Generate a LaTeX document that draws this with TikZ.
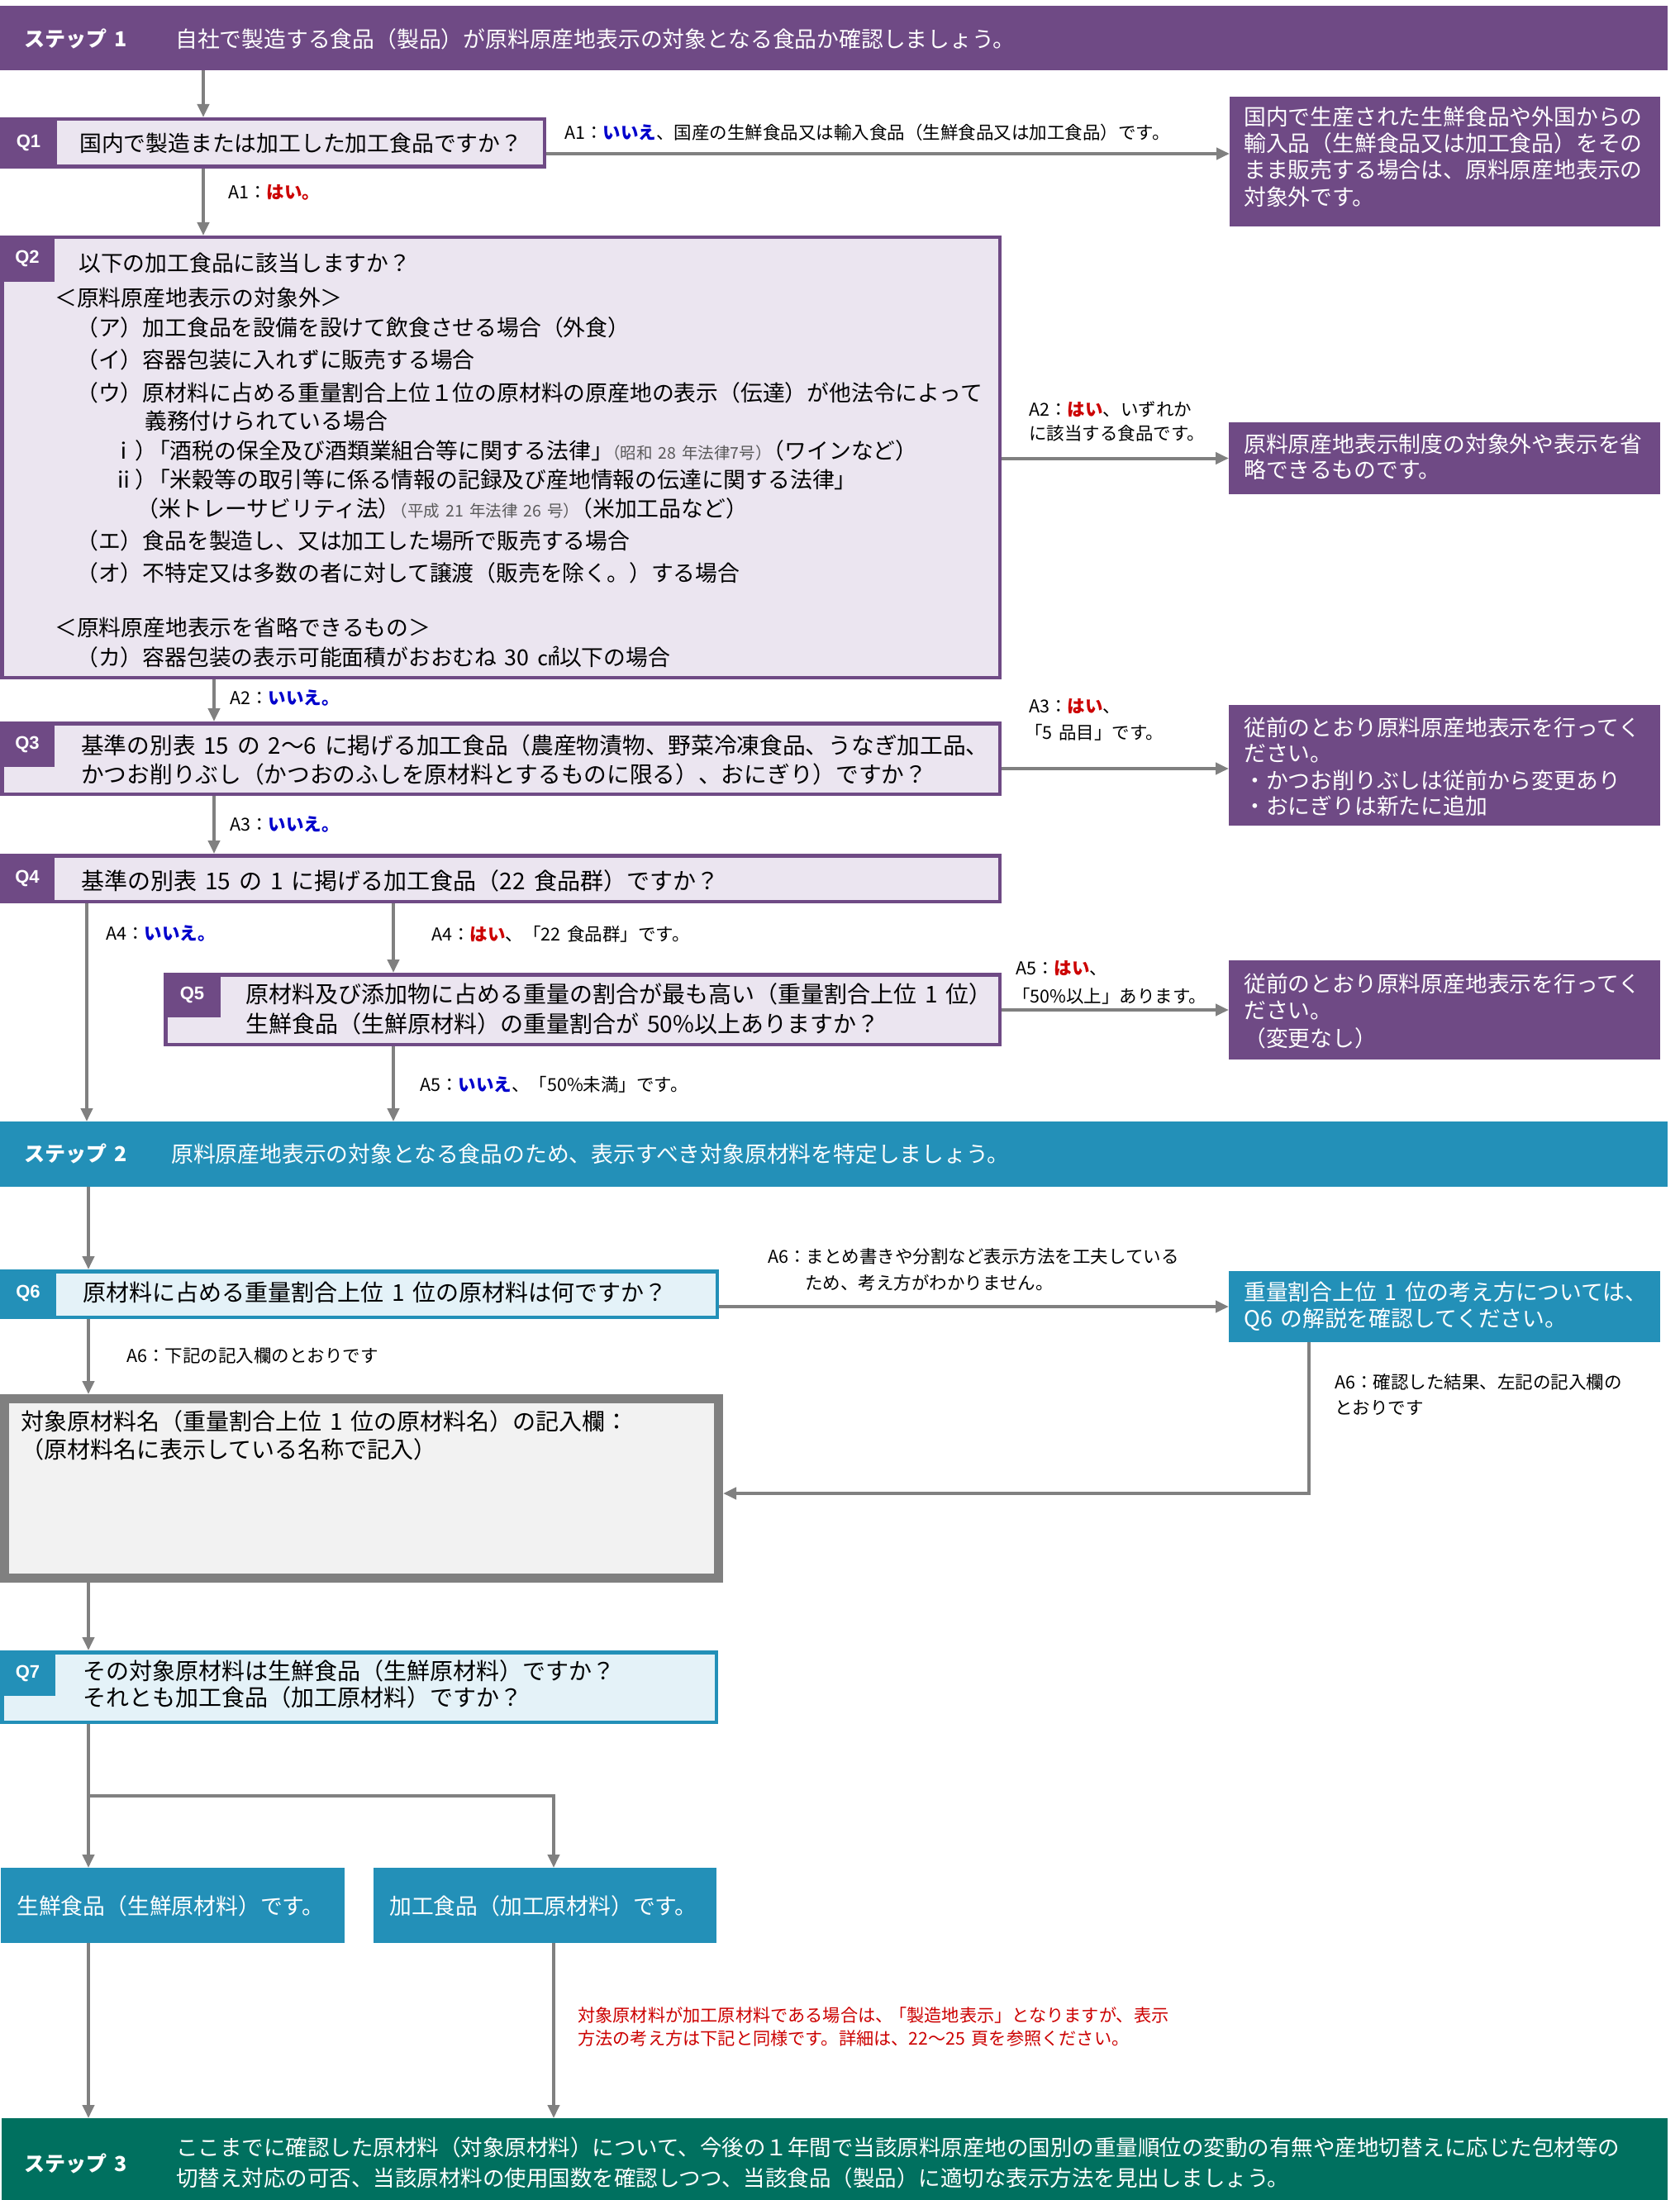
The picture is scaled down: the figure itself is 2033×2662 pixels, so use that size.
\documentclass[tikz,border=0pt]{standalone}
\usepackage{fontspec}
\setmainfont[WordSpace=1.6]{Noto Sans CJK JP}
\newfontfamily\qfont{Liberation Sans}
\usetikzlibrary{arrows.meta}
\definecolor{pur}{HTML}{6F4A85}
\definecolor{lav}{HTML}{EBE5F0}
\definecolor{blu}{HTML}{2390B8}
\definecolor{lblu}{HTML}{E4F2F8}
\definecolor{grn}{HTML}{00705F}
\definecolor{gry}{HTML}{808080}
\definecolor{yesc}{HTML}{CC0000}
\definecolor{noc}{HTML}{0000CC}
\definecolor{notec}{HTML}{CC0000}
\definecolor{entfill}{HTML}{F2F2F2}
\definecolor{lawc}{HTML}{595959}
\tikzset{
  box/.style={rectangle, inner sep=0pt, outer sep=0pt, anchor=north west},
  qbox/.style={box, draw=pur, fill=lav, line width=4.5pt, outer sep=2.25pt},
  qboxb/.style={box, draw=blu, fill=lblu, line width=4.5pt, outer sep=2.25pt},
  ptab/.style={box, fill=pur},
  btab/.style={box, fill=blu},
  qlab/.style={inner sep=0pt, text=white, font=\qfont\bfseries\fontsize{22}{26}\selectfont},
  qtxt/.style={anchor=west, inner sep=0pt, font=\fontsize{26.8}{32}\selectfont},
  qbig/.style={anchor=west, inner sep=0pt, font=\fontsize{28}{33}\selectfont},
  wtxt/.style={qtxt, text=white},
  steplab/.style={anchor=west, inner sep=0pt, text=white, font=\bfseries\fontsize{25}{30}\selectfont},
  lbl/.style={anchor=west, inner sep=0pt, font=\fontsize{21.5}{26}\selectfont},
  arr/.style={draw=gry, line width=4pt, -{Triangle[length=16pt,width=14pt]}},
}
\newcommand{\yes}[1]{{\bfseries\color{yesc}#1}}
\newcommand{\no}[1]{{\bfseries\color{noc}#1}}
\newcommand{\law}[1]{{\color{lawc}\fontsize{19.5}{24}\selectfont#1}}
\newcommand{\kk}{\kern-.4em}
\begin{document}
\begin{tikzpicture}[x=1pt,y=-1pt]
\fill[white] (0,0) rectangle (2033,2662);
\useasboundingbox (0,0) rectangle (2033,2662);

% ---------- step bars ----------
\node[box, fill=pur, minimum width=2018pt, minimum height=78pt] (step1) at (0,7) {};
\node[steplab] (s1l) at (29,47) {ステップ 1};
\node[wtxt] (s1t) at (212,47) {自社で製造する食品（製品）が原料原産地表示の対象となる食品か確認しましょう。};

\node[box, fill=blu, minimum width=2018pt, minimum height=79pt] (step2) at (0,1357) {};
\node[steplab] (s2l) at (29,1396) {ステップ 2};
\node[wtxt] (s2t) at (207,1396) {原料原産地表示の対象となる食品のため、表示すべき対象原材料を特定しましょう。};

\node[box, fill=grn, minimum width=2016pt, minimum height=99pt] (step3) at (2,2563) {};
\node[steplab] (s3l) at (29,2618) {ステップ 3};
\node[wtxt, font=\fontsize{26.5}{30}\selectfont] (s3a) at (213,2598) {ここまでに確認した原材料（対象原材料）について、今後の１年間で当該原料原産地の国別の重量順位の変動の有無や産地切替えに応じた包材等の};
\node[wtxt, font=\fontsize{26.5}{30}\selectfont] (s3b) at (213,2635) {切替え対応の可否、当該原材料の使用国数を確認しつつ、当該食品（製品）に適切な表示方法を見出しましょう。};

% ---------- Q1 ----------
\node[qbox, minimum width=656.5pt, minimum height=57.5pt] (q1) at (0,142) {};
\node[ptab, minimum width=69pt, minimum height=62pt] (q1tab) at (0,142) {};
\node[qlab] (q1l) at (q1tab) {Q1};
\node[qtxt] (q1t) at (96,173) {国内で製造または加工した加工食品ですか？};

\node[box, fill=pur, minimum width=521pt, minimum height=157pt] (r1) at (1488,117) {};
\node[wtxt] (r1a) at (1505,141) {国内で生産された生鮮食品や外国からの};
\node[wtxt] (r1b) at (1505,173) {輸入品（生鮮食品又は加工食品）をその};
\node[wtxt] (r1c) at (1505,205) {まま販売する場合は、原料原産地表示の};
\node[wtxt] (r1d) at (1505,238) {対象外です。};

% ---------- Q2 ----------
\node[qbox, minimum width=1207.5pt, minimum height=532.5pt] (q2) at (0,285) {};
\node[ptab, minimum width=66pt, minimum height=56pt] (q2tab) at (0,285) {};
\node[qlab] (q2l) at (q2tab) {Q2};
\node[qtxt] (q2a) at (95,318) {以下の加工食品に該当しますか？};
\node[qtxt] (q2b) at (66,360) {＜原料原産地表示の対象外＞};
\node[qtxt] (q2c) at (92,396) {（ア）加工食品を設備を設けて飲食させる場合（外食）};
\node[qtxt] (q2d) at (92,435) {（イ）容器包装に入れずに販売する場合};
\node[qtxt] (q2e) at (92,475) {（ウ）原材料に占める重量割合上位１位の原材料の原産地の表示（伝達）が他法令によって};
\node[qtxt] (q2f) at (175,509) {義務付けられている場合};
\node[qtxt] (q2g) at (136,545) {ⅰ）\kk「酒税の保全及び酒類業組合等に関する法律」\kk\law{（昭和 28 年法律7号）}\kk（ワインなど）};
\node[qtxt] (q2h) at (136,580) {ⅱ）\kk「米穀等の取引等に係る情報の記録及び産地情報の伝達に関する法律」};
\node[qtxt] (q2i) at (165,615) {（米トレーサビリティ法）\kk\law{（平成 21 年法律 26 号）}\kk（米加工品など）};
\node[qtxt] (q2j) at (92,654) {（エ）食品を製造し、又は加工した場所で販売する場合};
\node[qtxt] (q2k) at (92,693) {（オ）不特定又は多数の者に対して譲渡（販売を除く。）する場合};
\node[qtxt] (q2m) at (66,759) {＜原料原産地表示を省略できるもの＞};
\node[qtxt] (q2n) at (92,795) {（カ）容器包装の表示可能面積がおおむね 30 ㎠以下の場合};

\node[box, fill=pur, minimum width=522pt, minimum height=87pt] (r2) at (1487,511) {};
\node[wtxt] (r2a) at (1505,537) {原料原産地表示制度の対象外や表示を省};
\node[wtxt] (r2b) at (1505,568) {略できるものです。};

% ---------- Q3 ----------
\node[qbox, minimum width=1207.5pt, minimum height=85.5pt] (q3) at (0,873) {};
\node[ptab, minimum width=66pt, minimum height=55pt] (q3tab) at (0,873) {};
\node[qlab] (q3l) at (q3tab) {Q3};
\node[qbig, font=\fontsize{27.7}{33}\selectfont] (q3a) at (98,902) {基準の別表 15 の 2～6 に掲げる加工食品（農産物漬物、野菜冷凍食品、うなぎ加工品、};
\node[qbig, font=\fontsize{27.7}{33}\selectfont] (q3b) at (98,937) {かつお削りぶし（かつおのふしを原材料とするものに限る）、おにぎり）ですか？};

\node[box, fill=pur, minimum width=522pt, minimum height=146pt] (r3) at (1487,853) {};
\node[wtxt] (r3a) at (1505,880) {従前のとおり原料原産地表示を行ってく};
\node[wtxt] (r3b) at (1505,912) {ださい。};
\node[wtxt] (r3c) at (1505,944) {・かつお削りぶしは従前から変更あり};
\node[wtxt] (r3d) at (1505,975) {・おにぎりは新たに追加};

% ---------- Q4 ----------
\node[qbox, minimum width=1207.5pt, minimum height=55.5pt] (q4) at (0,1033) {};
\node[ptab, minimum width=66pt, minimum height=60pt] (q4tab) at (0,1033) {};
\node[qlab] (q4l) at (q4tab) {Q4};
\node[qbig] (q4a) at (98,1066) {基準の別表 15 の 1 に掲げる加工食品（22 食品群）ですか？};

% ---------- Q5 ----------
\node[qbox, minimum width=1009.5pt, minimum height=84.5pt] (q5) at (198,1177) {};
\node[ptab, minimum width=69pt, minimum height=54pt] (q5tab) at (198,1177) {};
\node[qlab] (q5l) at (q5tab) {Q5};
\node[qbig] (q5a) at (297,1203) {原材料及び添加物に占める重量の割合が最も高い（重量割合上位 1 位）};
\node[qbig] (q5b) at (297,1239) {生鮮食品（生鮮原材料）の重量割合が 50\%以上ありますか？};

\node[box, fill=pur, minimum width=522pt, minimum height=120pt] (r4) at (1487,1162) {};
\node[wtxt] (r4a) at (1505,1190) {従前のとおり原料原産地表示を行ってく};
\node[wtxt] (r4b) at (1505,1223) {ださい。};
\node[wtxt] (r4c) at (1505,1256) {（変更なし）};

% ---------- Q6 ----------
\node[qboxb, minimum width=865.5pt, minimum height=55.5pt] (q6) at (0,1536) {};
\node[btab, minimum width=68pt, minimum height=58pt] (q6tab) at (0,1536) {};
\node[qlab] (q6l) at (q6tab) {Q6};
\node[qbig] (q6a) at (100,1564) {原材料に占める重量割合上位 1 位の原材料は何ですか？};

\node[box, fill=blu, minimum width=522pt, minimum height=86pt] (r5) at (1487,1538) {};
\node[wtxt] (r5a) at (1505,1563) {重量割合上位 1 位の考え方については、};
\node[wtxt] (r5b) at (1505,1597) {Q6 の解説を確認してください。};

% ---------- entry box ----------
\node[box, draw=gry, fill=entfill, line width=11pt, outer sep=5.5pt, minimum width=864pt, minimum height=217pt] (entry) at (0,1687) {};
\node[qbig] (ea) at (25,1720) {対象原材料名（重量割合上位 1 位の原材料名）の記入欄：};
\node[qbig] (eb) at (25,1754) {（原材料名に表示している名称で記入）};

% ---------- Q7 ----------
\node[qboxb, minimum width=864.5pt, minimum height=84.5pt] (q7) at (0,1997) {};
\node[btab, minimum width=67pt, minimum height=55pt] (q7tab) at (0,1997) {};
\node[qlab] (q7l) at (q7tab) {Q7};
\node[qbig] (q7a) at (100,2022) {その対象原材料は生鮮食品（生鮮原材料）ですか？};
\node[qbig] (q7b) at (100,2054) {それとも加工食品（加工原材料）ですか？};

\node[box, fill=blu, minimum width=416pt, minimum height=91pt] (bA) at (1,2260) {};
\node[wtxt] (bAt) at (20,2306) {生鮮食品（生鮮原材料）です。};
\node[box, fill=blu, minimum width=415pt, minimum height=91pt] (bB) at (452,2260) {};
\node[wtxt] (bBt) at (471,2306) {加工食品（加工原材料）です。};

% ---------- labels ----------
\node[lbl] (la1n) at (683,160) {A1：\no{いいえ}、国産の生鮮食品又は輸入食品（生鮮食品又は加工食品）です。};
\node[lbl] (la1y) at (276,233) {A1：\yes{はい。}};
\node[lbl] (la2y1) at (1245,495) {A2：\yes{はい}、いずれか};
\node[lbl] (la2y2) at (1245,524) {に該当する食品です。};
\node[lbl] (la2n) at (278,845) {A2：\no{いいえ。}};
\node[lbl] (la3y1) at (1245,855) {A3：\yes{はい}、};
\node[lbl] (la3y2) at (1240,886) {「5 品目」です。};
\node[lbl] (la3n) at (278,998) {A3：\no{いいえ。}};
\node[lbl] (la4n) at (128,1130) {A4：\no{いいえ。}};
\node[lbl] (la4y) at (522,1130) {A4：\yes{はい}、「22 食品群」です。};
\node[lbl] (la5y1) at (1229,1172) {A5：\yes{はい}、};
\node[lbl] (la5y2) at (1225,1205) {「50\%以上」あります。};
\node[lbl] (la5n) at (508,1312) {A5：\no{いいえ}、「50\%未満」です。};
\node[lbl] (la6a1) at (929,1520) {A6：まとめ書きや分割など表示方法を工夫している};
\node[lbl] (la6a2) at (974,1552) {ため、考え方がわかりません。};
\node[lbl] (la6b) at (153,1640) {A6：下記の記入欄のとおりです};
\node[lbl] (la6c1) at (1615,1672) {A6：確認した結果、左記の記入欄の};
\node[lbl] (la6c2) at (1615,1703) {とおりです};
\node[lbl, text=notec, font=\fontsize{21.2}{26}\selectfont] (nt1) at (699,2438) {対象原材料が加工原材料である場合は、\kern-.2em「製造地表示」となりますが、表示};
\node[lbl, text=notec, font=\fontsize{21.2}{26}\selectfont] (nt2) at (699,2466) {方法の考え方は下記と同様です。詳細は、22～25 頁を参照ください。};

% ---------- connector coordinates ----------
\coordinate (x246) at (246,0);
\coordinate (x259) at (259,0);
\coordinate (x105) at (105,0);
\coordinate (x107) at (107,0);
\coordinate (x476) at (476,0);
\coordinate (x670) at (670,0);
\coordinate (x1584) at (1584,0);
\coordinate (y186) at (0,186);
\coordinate (y930) at (0,930);
\coordinate (y1807) at (0,1807);
\coordinate (jn) at (107,2173);

% ---------- connectors ----------
\draw[arr] (step1.south -| x246) -- (q1.north -| x246);
\draw[arr] (q1.east |- y186) -- (r1.west |- y186);
\draw[arr] (q1.south -| x246) -- (q2.north -| x246);
\draw[arr] (q2.east |- r2.west) -- (r2.west);
\draw[arr] (q2.south -| x259) -- (q3.north -| x259);
\draw[arr] (q3.east |- y930) -- (r3.west |- y930);
\draw[arr] (q3.south -| x259) -- (q4.north -| x259);
\draw[arr] (q4.south -| x105) -- (step2.north -| x105);
\draw[arr] (q4.south -| x476) -- (q5.north -| x476);
\draw[arr] (q5.east |- r4.west) -- (r4.west);
\draw[arr] (q5.south -| x476) -- (step2.north -| x476);
\draw[arr] (step2.south -| x107) -- (q6.north -| x107);
\draw[arr] (q6.east |- r5.west) -- (r5.west);
\draw[arr] (q6.south -| x107) -- (entry.north -| x107);
\draw[arr] (r5.south -| x1584) |- (entry.east |- y1807);
\draw[arr] (entry.south -| x107) -- (q7.north -| x107);
\draw[arr] (q7.south -| x107) -- (bA.north -| x107);
\draw[arr] (jn) -| (bB.north -| x670);
\draw[arr] (bA.south -| x107) -- (step3.north -| x107);
\draw[arr] (bB.south -| x670) -- (step3.north -| x670);
\end{tikzpicture}
\end{document}
